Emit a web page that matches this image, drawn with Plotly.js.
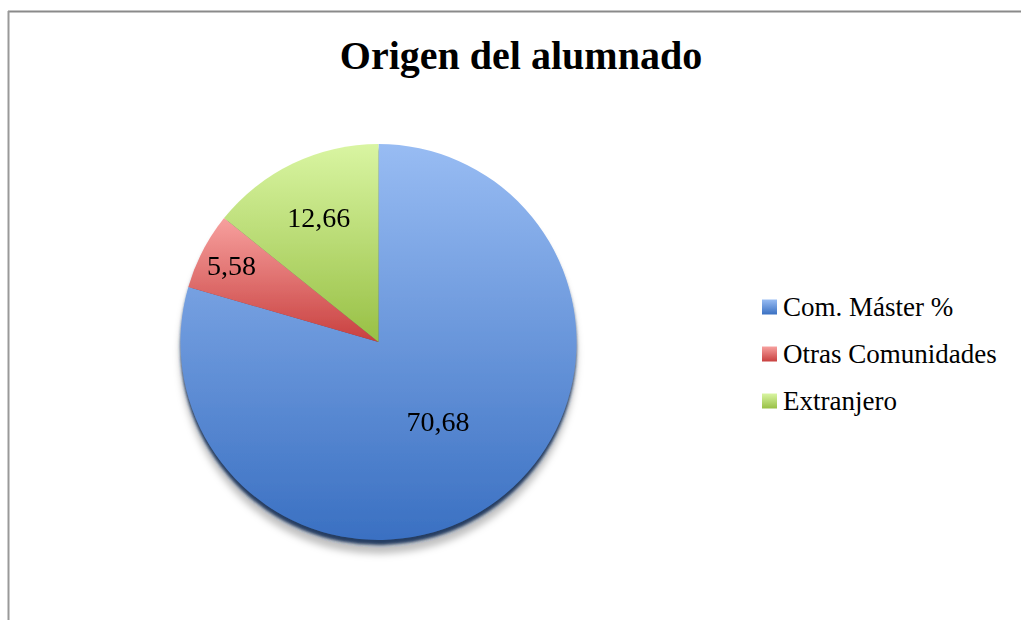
<!DOCTYPE html>
<html>
<head>
<meta charset="utf-8">
<script src="https://cdn.plot.ly/plotly-3.0.1.min.js"></script>
<style>
  html, body { margin: 0; padding: 0; background: #fff; }
  #chart { width: 1021px; height: 620px; }
</style>
</head>
<body>
<div id="chart"></div>
<script>
// ---- data ----
const categories = ['Com. Máster %', 'Otras Comunidades', 'Extranjero'];
const values = [70.68, 5.58, 12.66];
const chartTitle = 'Origen del alumnado';

// ---- styles ----
const baseColors = ['#6b97db', '#e06a6a', '#b9d878'];
const gradStops = [
  ['#98bcf3', '#3a70c2'],
  ['#f7a09e', '#c8403f'],
  ['#d9f5a2', '#98c045']
];
const W = 1021, H = 620;
const FONT = 'Liberation Serif, serif';
const px = x => x / W;
const py = y => 1 - y / H;

// legend built from the categories
const legendShapes = [], legendAnn = [];
categories.forEach((c, i) => {
  const cy = 307 + i * 47;
  legendShapes.push({
    type: 'rect', xref: 'paper', yref: 'paper',
    x0: px(762), x1: px(777), y0: py(cy + 7.5), y1: py(cy - 7.5),
    fillcolor: baseColors[i], line: {width: 0}, name: 'leg' + i
  });
  legendAnn.push({
    xref: 'paper', yref: 'paper', x: px(781), y: py(cy),
    xanchor: 'left', yanchor: 'middle', showarrow: false,
    text: c, font: {family: FONT, size: 27, color: '#000'}
  });
});

const borderShapes = [
  {type: 'line', xref: 'paper', yref: 'paper', x0: px(8), x1: 1, y0: py(11.5), y1: py(11.5), line: {color: '#8a8a8a', width: 2}},
  {type: 'line', xref: 'paper', yref: 'paper', x0: px(8.5), x1: px(8.5), y0: py(11), y1: 0, line: {color: '#999', width: 2}}
];

const trace = {
  type: 'pie',
  labels: categories,
  values: values,
  sort: false,
  direction: 'clockwise',
  rotation: 0,
  textinfo: 'value',
  textposition: 'inside',
  insidetextorientation: 'horizontal',
  textfont: {family: FONT, size: 28, color: '#000'},
  marker: {colors: baseColors, line: {width: 0}},
  domain: {x: [px(378.5 - 198), px(378.5 + 198)], y: [py(342 + 198), py(342 - 198)]},
  hoverinfo: 'label+value',
  showlegend: false
};

const layout = {
  width: W, height: H,
  margin: {l: 0, r: 0, t: 0, b: 0},
  paper_bgcolor: '#fff',
  separators: ',.',
  showlegend: false,
  title: {
    text: '<b>' + chartTitle + '</b>',
    x: px(521), xanchor: 'center', y: py(55), yref: 'container', yanchor: 'middle',
    font: {family: FONT, size: 40, color: '#000'}
  },
  shapes: borderShapes.concat(legendShapes),
  annotations: legendAnn
};

Plotly.newPlot('chart', [trace], layout, {displayModeBar: false, staticPlot: true}).then(gd => {
  const svg = gd.querySelector('svg.main-svg');
  const NS = 'http://www.w3.org/2000/svg';
  let defs = svg.querySelector('defs');
  if (!defs) { defs = document.createElementNS(NS, 'defs'); svg.insertBefore(defs, svg.firstChild); }
  gradStops.forEach((s, i) => {
    const g = document.createElementNS(NS, 'linearGradient');
    g.setAttribute('id', 'pg' + i);
    g.setAttribute('x1', '0'); g.setAttribute('y1', '0');
    g.setAttribute('x2', '0'); g.setAttribute('y2', '1');
    [[0, s[0]], [1, s[1]]].forEach(([o, c]) => {
      const st = document.createElementNS(NS, 'stop');
      st.setAttribute('offset', o); st.setAttribute('stop-color', c);
      g.appendChild(st);
    });
    defs.appendChild(g);
  });
  const f = document.createElementNS(NS, 'filter');
  f.setAttribute('id', 'pieShadow');
  f.setAttribute('x', '-10%'); f.setAttribute('y', '-10%');
  f.setAttribute('width', '120%'); f.setAttribute('height', '125%');
  f.innerHTML = '<feDropShadow dx="0" dy="5" stdDeviation="1.5" flood-color="#1b355c" flood-opacity="0.95"/>';
  defs.appendChild(f);
  const f2 = document.createElementNS(NS, 'filter');
  f2.setAttribute('id', 'pieShadow2');
  f2.setAttribute('x', '-10%'); f2.setAttribute('y', '-10%');
  f2.setAttribute('width', '120%'); f2.setAttribute('height', '130%');
  f2.innerHTML = '<feDropShadow dx="0" dy="9" stdDeviation="3" flood-color="#000" flood-opacity="0.25"/>';
  defs.appendChild(f2);

  const slices = gd.querySelectorAll('g.slice path.surface');
  slices.forEach((p, i) => { p.style.fill = 'url(#pg' + (i % 3) + ')'; });
  const trG = gd.querySelector('g.pielayer g.trace');
  if (trG) {
    trG.setAttribute('filter', 'url(#pieShadow)');
    const parent = trG.parentNode;
    const wrap = document.createElementNS(NS, 'g');
    wrap.setAttribute('filter', 'url(#pieShadow2)');
    parent.insertBefore(wrap, trG);
    wrap.appendChild(trG);
  }
  const shp = gd.querySelectorAll('.shapelayer path');
  const rects = Array.from(shp).filter(p => (p.getAttribute('style') || '').indexOf('fill: rgb') >= 0 && (p.getAttribute('style') || '').indexOf('fill-opacity: 1') >= 0);
  rects.slice(-3).forEach((p, i) => { p.style.fill = 'url(#pg' + i + ')'; });
});
</script>
</body>
</html>
